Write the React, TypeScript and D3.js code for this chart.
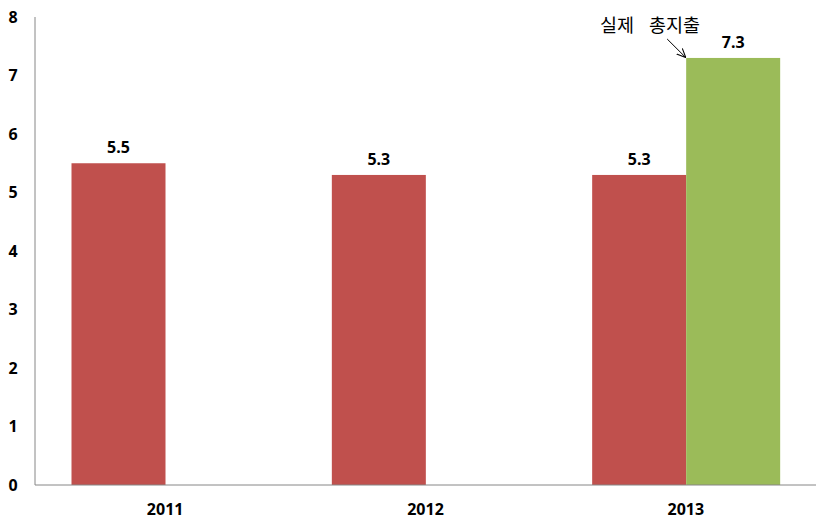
import React from "react";
import * as d3 from "d3";

const categories = ["2011", "2012", "2013"];
const seriesNames = ["plan", "actual"];
const planValues: (number | null)[] = [5.5, 5.3, 5.3];
const actualValues: (number | null)[] = [null, null, 7.3];
const yTicks = [0, 1, 2, 3, 4, 5, 6, 7, 8];
const annotationWords = ["실제", "총지출"];

const W = 831;
const H = 529;
const M = { left: 35, right: 15, top: 17, bottom: 44 };
const colors = ["#C0504D", "#9BBB59"];

export default function App() {
  const x = d3.scaleBand<string>().domain(categories).range([M.left, W - M.right]).paddingInner(0).paddingOuter(0);
  const groupW = 188;
  const groupOffset = 36.5;
  const x1 = d3.scaleBand<string>().domain(seriesNames).range([0, groupW]).padding(0);
  const y = d3.scaleLinear().domain([0, 8]).range([H - M.bottom, M.top]);
  const series = [planValues, actualValues];
  const font = "'Noto Sans', 'DejaVu Sans', sans-serif";

  const last = categories.length - 1;
  const gx = (c: string) => (x(c) as number) + groupOffset;
  const greenX = gx(categories[last]) + (x1("actual") as number);
  const greenTop = y(actualValues[last] as number);

  return (
    <svg width={W} height={H} style={{ position: "absolute", left: 0, top: 0 }}>
      <defs>
        <marker id="arr" viewBox="0 0 10 10" refX="9" refY="5" markerWidth="9" markerHeight="9" markerUnits="userSpaceOnUse" orient="auto">
          <path d="M0,0.5 L10,5 L0,9.5" fill="none" stroke="#000" strokeWidth="1.2" />
        </marker>
      </defs>
      <rect width={W} height={H} fill="#fff" />
      {series.map((vals, si) =>
        vals.map((v, i) =>
          v == null ? null : (
            <g key={`${si}-${i}`}>
              <rect
                x={gx(categories[i]) + (x1(seriesNames[si]) as number)}
                y={y(v)}
                width={x1.bandwidth()}
                height={y(0) - y(v)}
                fill={colors[si]}
              />
              <text
                x={gx(categories[i]) + (x1(seriesNames[si]) as number) + x1.bandwidth() / 2}
                y={y(v) - 10}
                textAnchor="middle"
                fontFamily={font}
                fontWeight="bold"
                fontSize={16}
                fill="#000"
              >
                {v.toFixed(1)}
              </text>
            </g>
          )
        )
      )}
      <line x1={M.left} x2={M.left} y1={M.top} y2={y(0)} stroke="#868686" strokeWidth={1} />
      <line x1={M.left} x2={W - M.right} y1={y(0)} y2={y(0)} stroke="#868686" strokeWidth={1} />
      {yTicks.map((t) => (
        <text key={t} x={13} y={y(t)} dy="0.36em" textAnchor="middle" fontFamily={font} fontWeight="bold" fontSize={16}>
          {t}
        </text>
      ))}
      {categories.map((c) => (
        <text key={c} x={(x(c) as number) + x.bandwidth() / 2} y={509} dy="0.36em" textAnchor="middle" fontFamily={font} fontWeight="bold" fontSize={16}>
          {c}
        </text>
      ))}
      <text y={32} fontFamily="'Noto Sans CJK KR', sans-serif" fontSize={18.5} fill="#000">
        <tspan x={600}>{annotationWords[0]}</tspan>
        <tspan x={649}>{annotationWords[1]}</tspan>
      </text>
      <line x1={greenX - 19} y1={39} x2={greenX - 1} y2={greenTop - 1} stroke="#000" strokeWidth={1} markerEnd="url(#arr)" />
    </svg>
  );
}
